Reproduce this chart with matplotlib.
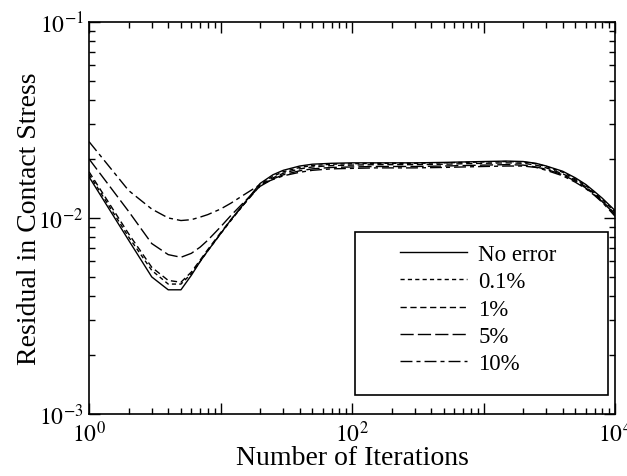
import math
import matplotlib
matplotlib.use("Agg")
import matplotlib.pyplot as plt
from matplotlib.patches import Rectangle
from matplotlib.ticker import LogLocator, FuncFormatter, NullFormatter

plt.rcParams['font.family'] = ['Liberation Serif', 'DejaVu Serif']
plt.rcParams['mathtext.fontset'] = 'stix'

iterations = [1, 2, 3, 4, 5, 6, 7, 8, 10, 12, 15, 20, 25, 30, 40, 50, 70, 100, 150, 200,
              300, 500, 700, 1000, 1500, 2000, 2500, 3000, 4000, 5000, 6000, 7000, 8000, 10000]

no_error = [0.0162, 0.0077, 0.0050, 0.0043, 0.0043, 0.0051, 0.0060, 0.0068, 0.0083, 0.0098,
            0.0118, 0.0150, 0.0166, 0.0175, 0.0184, 0.0188, 0.0190, 0.0191, 0.0191, 0.0191,
            0.0191, 0.0192, 0.0193, 0.0194, 0.0195, 0.0194, 0.0190, 0.0184, 0.0173, 0.0160,
            0.0148, 0.0136, 0.0126, 0.0109]
err_01 = [0.0167, 0.0080, 0.0054, 0.0046, 0.0046, 0.0052, 0.0060, 0.0068, 0.0083, 0.0097,
          0.0117, 0.0148, 0.0163, 0.0172, 0.0181, 0.0185, 0.0188, 0.0189, 0.0190, 0.0190,
          0.0190, 0.0191, 0.0192, 0.0193, 0.0194, 0.0193, 0.0189, 0.0183, 0.0171, 0.0158,
          0.0146, 0.0134, 0.0124, 0.0107]
err_1 = [0.0172, 0.0083, 0.0056, 0.0048, 0.0047, 0.0053, 0.0061, 0.0069, 0.0084, 0.0098,
         0.0117, 0.0146, 0.0160, 0.0169, 0.0178, 0.0182, 0.0185, 0.0186, 0.0187, 0.0187,
         0.0187, 0.0188, 0.0189, 0.0190, 0.0191, 0.0190, 0.0186, 0.0180, 0.0168, 0.0156,
         0.0144, 0.0132, 0.0122, 0.0105]
err_5 = [0.0200, 0.0108, 0.0074, 0.0065, 0.0063, 0.0066, 0.0071, 0.0077, 0.0090, 0.0103,
         0.0120, 0.0145, 0.0158, 0.0166, 0.0174, 0.0178, 0.0181, 0.0182, 0.0183, 0.0183,
         0.0183, 0.0184, 0.0185, 0.0186, 0.0187, 0.0186, 0.0182, 0.0177, 0.0166, 0.0154,
         0.0142, 0.0131, 0.0121, 0.0104]
err_10 = [0.0245, 0.0138, 0.0111, 0.0100, 0.0097, 0.0098, 0.0101, 0.0104, 0.0111, 0.0119,
          0.0131, 0.0148, 0.0157, 0.0164, 0.0171, 0.0175, 0.0178, 0.0179, 0.0180, 0.0180,
          0.0180, 0.0181, 0.0182, 0.0183, 0.0184, 0.0184, 0.0181, 0.0175, 0.0164, 0.0152,
          0.0141, 0.0130, 0.0120, 0.0102]

labels = ["No error", "0.1%", "1%", "5%", "10%"]
series = [no_error, err_01, err_1, err_5, err_10]
styles = ['-', (0, (3, 2.3)), (0, (4.5, 2.6)), (0, (9.5, 3)), (0, (8.6, 2.9, 2.9, 2.9))]

fig = plt.figure(figsize=(6.27, 4.77), dpi=100)
ax = fig.add_axes([0.142, 0.130, 0.839, 0.822])

for vals, lab, ls in zip(series, labels, styles):
    ax.plot(iterations, vals, color='black', lw=1.0, linestyle=ls, label=lab)

ax.set_xscale('log')
ax.set_yscale('log')
ax.set_xlim(1, 1e4)
ax.set_ylim(1e-3, 1e-1)

ax.xaxis.set_major_locator(LogLocator(base=10, numticks=10))
ax.xaxis.set_minor_locator(LogLocator(base=10, subs=range(2, 10), numticks=20))
ax.yaxis.set_major_locator(LogLocator(base=10, numticks=10))
ax.yaxis.set_minor_locator(LogLocator(base=10, subs=range(2, 10), numticks=20))


def xfmt(v, pos):
    e = int(round(math.log10(v)))
    return r'$10^{%d}$' % e if e % 2 == 0 else ''


def yfmt(v, pos):
    e = int(round(math.log10(v)))
    return r'$10^{%d}$' % e


ax.xaxis.set_major_formatter(FuncFormatter(xfmt))
ax.yaxis.set_major_formatter(FuncFormatter(yfmt))
ax.xaxis.set_minor_formatter(NullFormatter())
ax.yaxis.set_minor_formatter(NullFormatter())

ax.tick_params(which='both', direction='in', top=True, right=True, labelsize=17, width=1)
ax.tick_params(which='major', length=8)
ax.tick_params(which='minor', length=4)
ax.tick_params(axis='y', pad=4)
ax.tick_params(axis='x', pad=5)
for s in ax.spines.values():
    s.set_linewidth(1.2)

ax.set_xlabel("Number of Iterations", fontsize=20, labelpad=-1)
ax.set_ylabel("Residual in Contact Stress", fontsize=20, labelpad=-3)

leg = ax.legend(loc='upper left', bbox_to_anchor=(0.591, 0.433), frameon=False,
                fontsize=16.5, handlelength=2.93, handletextpad=0.48, labelspacing=0.27,
                borderpad=0, borderaxespad=0)
ax.add_patch(Rectangle((0.506, 0.048), 0.481, 0.416, transform=ax.transAxes,
                       fill=False, edgecolor='black', lw=1.2, zorder=5))

fig.savefig("out.png", dpi=100)
